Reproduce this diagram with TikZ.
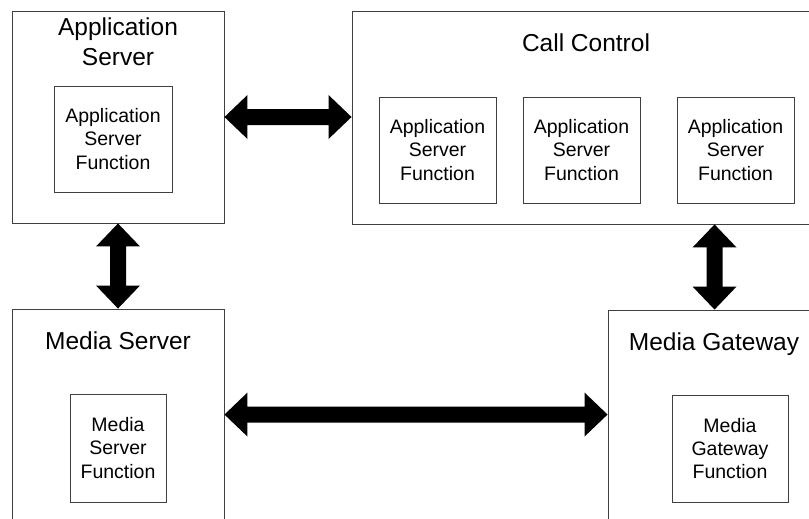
\documentclass[tikz,border=0pt]{standalone}
\usepackage{fontspec}
\setmainfont{Liberation Sans}
\usetikzlibrary{calc}
\tikzset{
 box/.style={draw=black!75, line width=0.9pt, fill=white, inner sep=0pt},
 titletext/.style={font=\fontsize{24.5}{30}\selectfont, align=center, inner sep=0pt},
 func/.style={box, font=\fontsize{19.5}{23.3}\selectfont, align=center},
 bigarrow/.style={fill=black},
}
\newcommand\hdbl[2]{\fill[bigarrow] let \p1=#1, \p2=#2 in (\x1,\y1) -- (\x1+23pt,\y1+22pt) -- (\x1+23pt,\y1+8pt) -- (\x2-23pt,\y1+8pt) -- (\x2-23pt,\y1+22pt) -- (\x2,\y1) -- (\x2-23pt,\y1-22pt) -- (\x2-23pt,\y1-8pt) -- (\x1+23pt,\y1-8pt) -- (\x1+23pt,\y1-22pt) -- cycle;}
\newcommand\vdbl[2]{\fill[bigarrow] let \p1=#1, \p2=#2 in (\x1,\y1) -- (\x1+22pt,\y1-23pt) -- (\x1+8pt,\y1-23pt) -- (\x1+8pt,\y2+23pt) -- (\x1+22pt,\y2+23pt) -- (\x1,\y2) -- (\x1-22pt,\y2+23pt) -- (\x1-8pt,\y2+23pt) -- (\x1-8pt,\y1-23pt) -- (\x1-22pt,\y1-23pt) -- cycle;}
\begin{document}
\begin{tikzpicture}[x=1pt,y=-1pt]
\useasboundingbox (0,0) rectangle (809,519);
\clip (0,0) rectangle (809,519);
% Application Server
\node[box, minimum width=212pt, minimum height=212pt] (as) at (118,117) {};
\node[titletext] (astitle) at (118,41.7) {Application\\Server};
\node[func, minimum width=118pt, minimum height=106pt] (asf) at (113,139) {Application\\Server\\Function};
% Call Control
\node[box, minimum width=478pt, minimum height=213pt] (cc) at (591,117.5) {};
\node[titletext, anchor=base] (cctitle) at (586,51.7) {Call Control};
\node[func, minimum width=117pt, minimum height=106pt] (ccf1) at (437.5,150) {Application\\Server\\Function};
\node[func, minimum width=117pt, minimum height=106pt] (ccf2) at (581.5,150) {Application\\Server\\Function};
\node[func, minimum width=117pt, minimum height=106pt] (ccf3) at (735.5,150) {Application\\Server\\Function};
% Media Server
\node[box, minimum width=212pt, minimum height=221pt] (ms) at (118,419.5) {};
\node[titletext, anchor=base] (mstitle) at (118,349.3) {Media Server};
\node[func, minimum width=96pt, minimum height=108pt] (msf) at (118,448) {Media\\Server\\Function};
% Media Gateway
\node[box, minimum width=222pt, minimum height=220pt] (mg) at (719,420) {};
\node[titletext, anchor=base] (mgtitle) at (714,350) {Media Gateway};
\node[func, minimum width=116pt, minimum height=107pt] (mgf) at (730,448.5) {Media\\Gateway\\Function};
% arrows
\hdbl{(as.east)}{(cc.west)}
\coordinate (msarrow) at ($(ms.north east)+(0,106)$);
\coordinate (mgarrow) at ($(mg.north west)+(0,105)$);
\hdbl{(msarrow)}{(mgarrow)}
\vdbl{(as.south)}{(ms.north)}
\coordinate (mgtop) at ($(mg.north west)+(107,0)$);
\coordinate (ccbot) at (mgtop |- cc.south);
\vdbl{(ccbot)}{(mgtop)}
\end{tikzpicture}
\end{document}
